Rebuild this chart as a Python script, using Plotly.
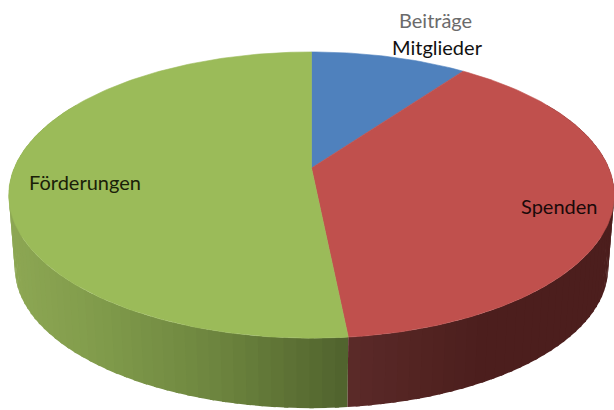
import math
import plotly.graph_objects as go

categories = ["Beiträge Mitglieder", "Spenden", "Förderungen"]
values = [10.0, 38.4, 51.6]
top_colors = ["#4f81bd", "#c0504d", "#9bbb59"]

# Perspective projection of the disc (pixel axes, y downwards)
CX, CY = 311.5, 168.0
A, B, K = 297.3, 138.0, 0.189
DEPTH, BOTTOM_SCALE = 73.4, 0.98


def project(theta, bottom=False):
    u, v = math.sin(theta), math.cos(theta)
    s = 1.0 / (1.0 + K * v)
    if bottom:
        return CX + BOTTOM_SCALE * A * u * s, CY + DEPTH - BOTTOM_SCALE * B * v * s
    return CX + A * u * s, CY - B * v * s


def lerp_stops(stops, x):
    for (x0, c0), (x1, c1) in zip(stops, stops[1:]):
        if x <= x1:
            t = max(0.0, (x - x0) / (x1 - x0))
            return tuple(round(a + (b - a) * t) for a, b in zip(c0, c1))
    return stops[-1][1]


side_stops = {
    1: [(340, (92, 43, 41)), (480, (76, 30, 29)), (620, (76, 30, 29))],
    2: [(0, (142, 168, 84)), (100, (128, 155, 75)), (220, (108, 132, 62)), (348, (80, 98, 45))],
}

total = sum(values)
edges = [0.0]
for val in values:
    edges.append(edges[-1] + val / total * 2 * math.pi)

fig = go.Figure()


def add_poly(xs, ys, color, width=0.6):
    fig.add_trace(go.Scatter(x=xs, y=ys, mode="lines", fill="toself", fillcolor=color,
                             line=dict(width=width, color=color), hoverinfo="skip", showlegend=False))


# Side wall: each strip overlaps its neighbour, so no seams open up between them.
for idx in (2, 1):
    start = max(edges[idx], math.radians(60))
    stop = min(edges[idx + 1], math.radians(300))
    n = max(2, int((stop - start) / math.radians(2.0)))
    order = range(n) if idx == 1 else range(n - 1, -1, -1)
    for i in order:
        t0 = start + (stop - start) * i / n
        t1 = start + (stop - start) * (i + 1) / n
        tc0 = t0 - 0.012 if (idx == 2 and i > 0) else t0
        tc1 = t1 + 0.012 if (idx == 1 and i < n - 1) else t1
        x0, y0 = project(tc0)
        x1, y1 = project(tc1)
        x2, y2 = project(tc1, True)
        x3, y3 = project(tc0, True)
        r, g, b = lerp_stops(side_stops[idx], (project(t0)[0] + project(t1)[0]) / 2)
        add_poly([x0, x1, x2, x3, x0], [y0, y1, y2, y3, y0], f"rgb({r},{g},{b})", 0)

# Top face
for idx, color in enumerate(top_colors):
    n = max(8, int((edges[idx + 1] - edges[idx]) / math.radians(1)))
    pts = [project(edges[idx] + (edges[idx + 1] - edges[idx]) * i / n) for i in range(n + 1)]
    xs = [CX] + [p[0] for p in pts] + [CX]
    ys = [CY] + [p[1] for p in pts] + [CY]
    add_poly(xs, ys, color)

FONT = "Lato, Open Sans, sans-serif"
labels = [
    ("Beiträge", 435.5, 20, "#6b6b6b"),
    ("Mitglieder", 437.5, 47, "#111111"),
    ("Spenden", 559, 206, "#1a0a0a"),
    ("Förderungen", 84.5, 182, "#1a2008"),
]
for text, x, y, color in labels:
    fig.add_annotation(x=x, y=y, text=text, showarrow=False, xanchor="center", yanchor="middle",
                       font=dict(family=FONT, size=20, color=color))

fig.update_layout(
    width=614, height=410, margin=dict(l=0, r=0, t=0, b=0),
    paper_bgcolor="white", plot_bgcolor="white", showlegend=False,
    xaxis=dict(range=[0, 614], visible=False, fixedrange=True),
    yaxis=dict(range=[410, 0], visible=False, fixedrange=True),
)
fig.write_html("out.html", config={"displayModeBar": False},
               post_script="document.body.style.margin='0';document.documentElement.style.overflow='hidden';")
